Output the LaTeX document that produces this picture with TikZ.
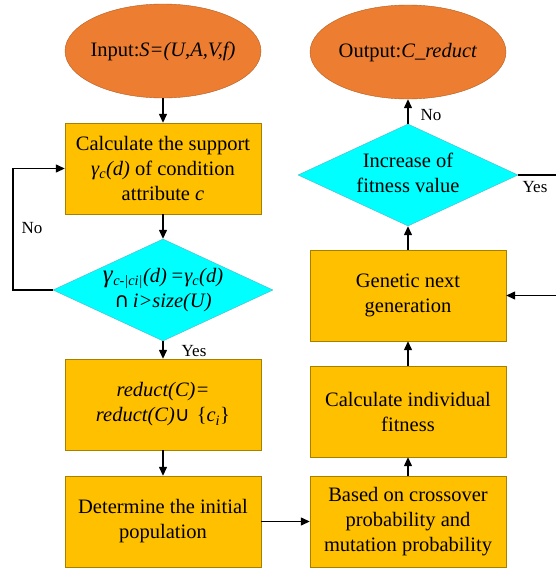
\documentclass[tikz,border=0pt]{standalone}
\usepackage{fontspec}
\setmainfont{Liberation Serif}
\newfontfamily\symfont{DejaVu Sans}
\usetikzlibrary{arrows.meta,shapes.geometric}
\definecolor{peel}{HTML}{ED7D31}
\definecolor{peeledge}{HTML}{B35D22}
\definecolor{gold}{HTML}{FFC000}
\definecolor{goldedge}{HTML}{A88000}
\definecolor{aqua}{HTML}{00FFFF}
\definecolor{aquaedge}{HTML}{4DB8C8}
\newcommand{\zerow}[1]{\makebox[0pt]{\begin{tabular}{@{}c@{}}#1\end{tabular}}}

\begin{document}
\begin{tikzpicture}[x=1pt,y=-1pt,font=\fontsize{20.5}{25}\selectfont,
  stepbox/.style={draw=goldedge,fill=gold,minimum width=196pt,minimum height=91pt,inner sep=0pt,align=center},
  term/.style={ellipse,draw=peeledge,fill=peel,minimum width=196pt,minimum height=94pt,inner sep=0pt},
  decide/.style={diamond,draw=aquaedge,fill=aqua,minimum width=220pt,minimum height=102pt,inner sep=0pt},
  arr/.style={-{Triangle[length=9pt,width=8pt]},line width=1.3pt},
  tag/.style={font=\fontsize{17}{20}\selectfont}]
\useasboundingbox (0,0) rectangle (556,568);
% left column
\node[term] (in) at (163,51) {\zerow{Input:\textit{S=(U,A,V,f)}}};
\node[stepbox] (calc) at (163,168.5) {Calculate the support\\ \textit{γ\textsubscript{c}(d)} of condition\\ attribute \textit{c}};
\node[decide] (chk) at (163,290) {\zerow{{\fontsize{25}{25}\selectfont\textit{γ}}\textsubscript{\textit{c-|ci|}}\textit{(d)\,=γ\textsubscript{c}(d)}\\ {\symfont ∩}\,\textit{i>size(U)}}};
\node[stepbox] (red) at (163,404.5) {\textit{reduct(C)=}\\ \textit{reduct(C)}{\symfont ∪}\,\,\{\textit{c\textsubscript{i}}\}};
\node[stepbox] (init) at (163,521.5) {Determine the initial\\ population};
% right column
\node[stepbox] (cross) at (408,521.5) {Based on crossover\\ probability and\\ mutation probability};
\node[stepbox] (fit) at (408,411.5) {Calculate individual\\ fitness};
\node[stepbox] (gen) at (408,295.5) {Genetic next\\ generation};
\node[decide] (grow) at (408,175) {\zerow{Increase of\\ fitness value}};
\node[term] (out) at (408,52) {\zerow{Output:\textit{C\_reduct}}};
% labels
\node[tag] (no1) at (32,228) {No};
\node[tag] (yes1) at (194,351) {Yes};
\node[tag] (no2) at (431,115) {No};
\node[tag] (yes2) at (535,187) {Yes};
% connectors
\draw[arr] (in.south) -- (calc.north);
\draw[arr] (calc.south) -- (chk.north);
\draw[arr] (chk.south) -- (red.north);
\draw[arr] (red.south) -- (init.north);
\draw[arr] (init.east) -- (cross.west);
\draw[arr] (cross.north) -- (fit.south);
\draw[arr] (fit.north) -- (gen.south);
\draw[arr] (gen.north) -- (grow.south);
\draw[arr] (grow.north) -- (out.south);
\coordinate (back) at (13,290);
\draw[arr] (chk.west) -- (back) |- (calc.west);
\coordinate (rim) at (556,0);
\draw[line width=1.3pt] (grow.east) -- (grow.east -| rim);
\draw[arr] (gen.east -| rim) -- (gen.east);
\end{tikzpicture}
\end{document}
